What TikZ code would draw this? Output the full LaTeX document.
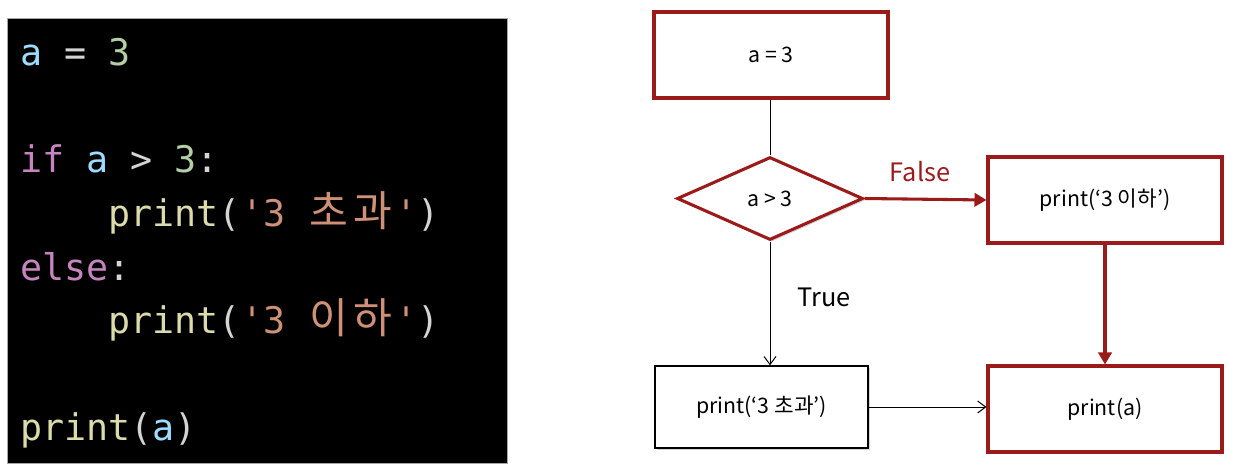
\documentclass[tikz,border=0pt]{standalone}
\usepackage{fontspec}
\setmainfont{Noto Sans CJK KR}
\setmonofont{DejaVu Sans Mono}
\newfontfamily\kr[Scale=1.15]{Noto Sans CJK KR}
\usetikzlibrary{shapes.geometric,arrows.meta,shadows}
\definecolor{cvar}{HTML}{9CDCFE}
\definecolor{cop}{HTML}{D4D4D4}
\definecolor{cnum}{HTML}{B5CEA8}
\definecolor{ckw}{HTML}{C586C0}
\definecolor{cfn}{HTML}{DCDCAA}
\definecolor{cstr}{HTML}{CE9178}
\definecolor{fred}{HTML}{9B1B1B}
\newcommand\hg[1]{\makebox[1.2em][c]{\kr #1}}
\newcommand\indentfour{\phantom{xxxx}}
\def\px{0.75pt}
\tikzset{
  codeline/.style={anchor=base west, inner sep=0pt, font=\ttfamily\fontsize{27.5pt}{30pt}\selectfont},
  redbox/.style={draw=fred, line width=2.3pt, fill=white, rectangle, inner sep=0pt,
    drop shadow={opacity=0.35, shadow xshift=1.5pt, shadow yshift=-1.5pt}},
  blackbox/.style={draw=black, line width=1.1pt, fill=white, rectangle, inner sep=0pt,
    drop shadow={opacity=0.35, shadow xshift=1.5pt, shadow yshift=-1.5pt}},
  flowtext/.style={font=\fontsize{16pt}{19pt}\selectfont},
  thinarrow/.style={draw=black, line width=0.75pt, -{Straight Barb[length=6pt,width=9pt]}},
  redarrow/.style={draw=fred, line width=2.3pt, -{Triangle[length=9pt,width=10pt]}},
  lbl/.style={font=\fontsize{19pt}{22pt}\selectfont, inner sep=0pt},
}
\begin{document}
\begin{tikzpicture}[x=0.75pt,y=-0.75pt]
\useasboundingbox (0,0) rectangle (1235,472);
% code panel
\node[fill=black, draw=gray!70, line width=0.6pt, minimum width=500*\px, minimum height=445*\px, inner sep=0pt] (panel) at (257,240.5) {};
\node[codeline] (l1) at (20,65) {\color{cvar}a \color{cop}= \color{cnum}3};
\node[codeline] (l2) at (20,172) {\color{ckw}if \color{cvar}a \color{cop}> \color{cnum}3\color{cop}:};
\node[codeline] (l3) at (20,226) {\indentfour\color{cfn}print\color{cop}(\color{cstr}'3 \hg{초}\hg{과}'\color{cop})};
\node[codeline] (l4) at (20,280) {\color{ckw}else\color{cop}:};
\node[codeline] (l5) at (20,333) {\indentfour\color{cfn}print\color{cop}(\color{cstr}'3 \hg{이}\hg{하}'\color{cop})};
\node[codeline] (l6) at (20,440) {\color{cfn}print\color{cop}(\color{cvar}a\color{cop})};
% flowchart
\node[redbox, flowtext, minimum width=234*\px, minimum height=86*\px] (assign) at (771,55) {a = 3};
\node[draw=fred, line width=2.3pt, fill=white, shape=diamond, inner sep=0pt, aspect=2.24,
  minimum width=186*\px, minimum height=83*\px, flowtext,
  drop shadow={opacity=0.35, shadow xshift=1.5pt, shadow yshift=-1.5pt}] (cond) at (770,198.5) {a > 3};
\node[redbox, flowtext, minimum width=234*\px, minimum height=86*\px] (else) at (1105,200) {print(‘3 이하’)};
\node[blackbox, flowtext, minimum width=213*\px, minimum height=82*\px] (then) at (761.5,407) {print(‘3 초과’)};
\node[redbox, flowtext, minimum width=234*\px, minimum height=86*\px] (out) at (1105,409) {print(a)};
\draw[black, line width=0.75pt] (assign.south -| cond.north) -- (cond.north);
\draw[redarrow] (cond.east) -- (else.west);
\draw[redarrow] (else.south) -- (out.north);
\draw[thinarrow] (cond.south) -- (cond.south |- then.north);
\draw[thinarrow] (then.east) -- (then.east -| out.west);
\node[lbl, text=fred] (flabel) at (920,172) {False};
\node[lbl] (tlabel) at (824,297) {True};
\end{tikzpicture}
\end{document}
